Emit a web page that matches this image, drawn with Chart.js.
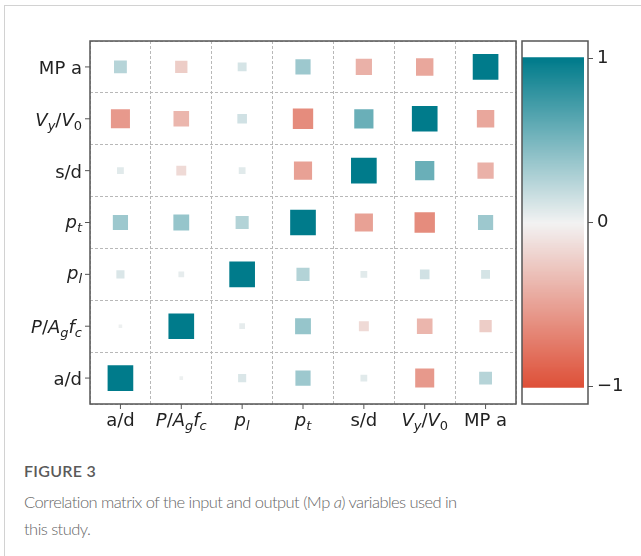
<!DOCTYPE html>
<html>
<head>
<meta charset="utf-8">
<script src="https://cdn.jsdelivr.net/npm/chart.js@4.4.0/dist/chart.umd.min.js"></script>
<style>
  html, body { margin: 0; padding: 0; background: #fff; }
  body { width: 641px; height: 556px; position: relative; overflow: hidden; }
  .card { position: absolute; left: 4px; top: 5px; width: 700px; height: 600px;
          border-left: 1px solid #d2d2d2; border-top: 1px solid #d2d2d2; }
  #matrix { position: absolute; left: 0; top: 0; }
  #cbar { position: absolute; left: 519px; top: 0; }
  .fig { position: absolute; left: 24px; top: 462px; font-family: Lato, sans-serif;
         font-size: 16px; line-height: 18px; font-weight: 600; color: #5a5a5a; letter-spacing: 0.3px; }
  .text { position: absolute; left: 24px; top: 489px; width: 600px; font-family: Lato, sans-serif;
          font-size: 16.5px; line-height: 27px; font-weight: 300; color: #666; letter-spacing: -0.55px; }
</style>
</head>
<body>
<div class="card"></div>
<canvas id="matrix" width="641" height="440"></canvas>
<canvas id="cbar" width="122" height="440"></canvas>
<div class="fig">FIGURE 3</div>
<div class="text">Correlation matrix of the input and output (Mp <i>a</i>) variables used in<br>this study.</div>

<script>
// variables, in column order (left to right); rows are drawn bottom to top in the same order
const variables = ['a/d', 'P/Agfc', 'pl', 'pt', 's/d', 'Vy/V0', 'MP a'];

const rowAd    = [ 1.00,  0.02, 0.10,  0.35,  0.07, -0.55,  0.25];
const rowPAgfc = [ 0.02,  1.00, 0.05,  0.38, -0.15, -0.37, -0.23];
const rowPl    = [ 0.10,  0.05, 1.00,  0.26,  0.07,  0.14,  0.12];
const rowPt    = [ 0.35,  0.38, 0.26,  1.00, -0.50, -0.63,  0.35];
const rowSd    = [ 0.07, -0.15, 0.07, -0.50,  1.00,  0.56, -0.40];
const rowVy    = [-0.55, -0.37, 0.14, -0.63,  0.56,  1.00, -0.46];
const rowMpa   = [ 0.25, -0.23, 0.12,  0.35, -0.40, -0.46,  1.00];
const corr = [rowAd, rowPAgfc, rowPl, rowPt, rowSd, rowVy, rowMpa];

const cbarTicks = [-1, 0, 1];

// tick label pieces: n = normal, i = italic, s = italic subscript, sn = upright subscript
const richLabels = {
  'a/d':    [['a/d', 'n']],
  'P/Agfc': [['P', 'i'], ['/', 'n'], ['A', 'i'], ['g', 's'], ['f', 'i'], ['c', 's']],
  'pl':     [['p', 'i'], ['l', 's']],
  'pt':     [['p', 'i'], ['t', 's']],
  's/d':    [['s/d', 'n']],
  'Vy/V0':  [['V', 'i'], ['y', 's'], ['/', 'n'], ['V', 'i'], ['0', 'sn']],
  'MP a':   [['MP a', 'n']]
};

const yLabels = variables.slice().reverse();

const posEnd = [0, 123, 139];
const negEnd = [222, 80, 56];
const mid = [242, 242, 242];
function colorFor(v) {
  const t = Math.min(1, Math.abs(v));
  const end = v >= 0 ? posEnd : negEnd;
  const c = mid.map((m, k) => Math.round(m + (end[k] - m) * t));
  return 'rgb(' + c.join(',') + ')';
}

function fontFor(style) {
  const sub = style === 's' || style === 'sn';
  const italic = style === 'i' || style === 's';
  return (italic ? 'italic ' : '') + (sub ? 13 : 18) + 'px "DejaVu Sans"';
}

function drawRich(ctx, key, x, y, align) {
  const parts = richLabels[key];
  const widths = parts.map(p => { ctx.font = fontFor(p[1]); return ctx.measureText(p[0]).width; });
  const total = widths.reduce((a, b) => a + b, 0);
  let sx = align === 'right' ? x - total : (align === 'center' ? x - total / 2 : x);
  ctx.textAlign = 'left';
  ctx.textBaseline = 'alphabetic';
  parts.forEach((p, i) => {
    ctx.font = fontFor(p[1]);
    const drop = (p[1] === 's' || p[1] === 'sn') ? 4 : 0;
    ctx.fillText(p[0], sx, y + drop);
    sx += widths[i];
  });
}

const points = [];
variables.forEach((rv, i) => {
  variables.forEach((cv, j) => {
    points.push({ x: cv, y: rv, v: corr[i][j] });
  });
});

const matrixDecor = {
  id: 'matrixDecor',
  afterDraw(chart) {
    const { ctx, chartArea: a, scales: { x, y } } = chart;
    ctx.save();
    ctx.strokeStyle = '#555';
    ctx.lineWidth = 1;
    ctx.beginPath();
    variables.forEach((v, i) => {
      const px = x.getPixelForValue(i);
      ctx.moveTo(px, a.bottom); ctx.lineTo(px, a.bottom + 5);
    });
    yLabels.forEach((v, i) => {
      const py = y.getPixelForValue(i);
      ctx.moveTo(a.left - 5, py); ctx.lineTo(a.left, py);
    });
    ctx.stroke();
    ctx.lineWidth = 1.5;
    ctx.strokeRect(a.left, a.top, a.right - a.left, a.bottom - a.top);

    ctx.fillStyle = '#222';
    variables.forEach((v, i) => {
      drawRich(ctx, v, x.getPixelForValue(i), a.bottom + 22, 'center');
    });
    yLabels.forEach((v, i) => {
      const off = (v === 'pl' || v === 'pt') ? 5 : 7;
      drawRich(ctx, v, a.left - 8, y.getPixelForValue(i) + off, 'right');
    });
    ctx.restore();
  }
};

const gridOpts = { offset: true, color: '#b8b8b8', lineWidth: 1, drawTicks: false };

new Chart(document.getElementById('matrix'), {
  type: 'scatter',
  data: {
    datasets: [{
      data: points,
      pointStyle: 'rect',
      pointBorderWidth: 0,
      pointBackgroundColor: c => c.raw ? colorFor(c.raw.v) : '#fff',
      pointRadius: c => {
        const a = c.chart.chartArea;
        if (!a || !c.raw) return 0;
        const cellH = (a.bottom - a.top) / variables.length;
        return 0.495 * cellH * Math.sqrt(Math.abs(c.raw.v)) / Math.SQRT2;
      }
    }]
  },
  options: {
    responsive: false,
    animation: false,
    events: [],
    layout: { padding: { left: 90, top: 41, right: 125, bottom: 36 } },
    plugins: { legend: { display: false }, tooltip: { enabled: false } },
    scales: {
      x: {
        type: 'category', labels: variables, offset: true,
        grid: gridOpts, border: { display: false, dash: [3, 2] },
        ticks: { display: false },
        afterFit: s => { s.height = 0; }
      },
      y: {
        type: 'category', labels: yLabels, offset: true,
        grid: gridOpts, border: { display: false, dash: [3, 2] },
        ticks: { display: false },
        afterFit: s => { s.width = 0; }
      }
    }
  },
  plugins: [matrixDecor]
});

// colour bar
const steps = 300;
const barVals = Array.from({ length: steps + 1 }, (_, k) => -1 + 2 * k / steps);

const cbarFrame = {
  id: 'cbarFrame',
  afterDraw(chart) {
    const { ctx, chartArea: a } = chart;
    ctx.save();
    ctx.strokeStyle = '#555';
    ctx.lineWidth = 1.5;
    ctx.strokeRect(a.left, a.top, a.right - a.left, a.bottom - a.top);
    ctx.restore();
  }
};

new Chart(document.getElementById('cbar'), {
  type: 'bar',
  data: {
    datasets: [{
      data: barVals.map(v => ({ x: 1, y: v })),
      backgroundColor: barVals.map(colorFor),
      borderWidth: 0,
      barPercentage: 2,
      categoryPercentage: 1
    }]
  },
  options: {
    indexAxis: 'y',
    responsive: false,
    animation: false,
    events: [],
    layout: { padding: { left: 3, top: 41, right: 0, bottom: 36 } },
    plugins: { legend: { display: false }, tooltip: { enabled: false } },
    scales: {
      x: { type: 'linear', min: 0, max: 1.065, display: false },
      y: {
        type: 'linear', position: 'right', min: -1.105, max: 1.105, offset: false,
        afterBuildTicks: s => { s.ticks = cbarTicks.map(v => ({ value: v })); },
        ticks: {
          callback: v => v < 0 ? '\u2212' + Math.abs(v) : String(v),
          font: { family: 'DejaVu Sans', size: 18 }, color: '#222', padding: 4
        },
        grid: { offset: false, drawOnChartArea: false, drawTicks: true, tickLength: 5, color: '#555', lineWidth: 1 },
        border: { display: false },
        afterFit: s => { s.width = 53; }
      }
    }
  },
  plugins: [cbarFrame]
});
</script>
</body>
</html>
